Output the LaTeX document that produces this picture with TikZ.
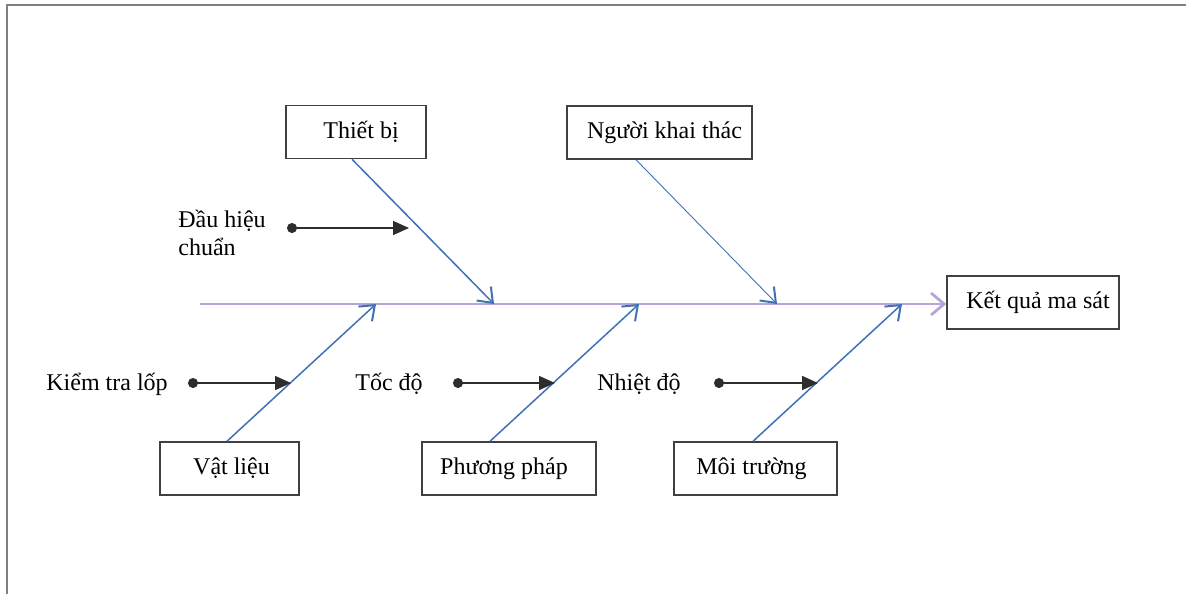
\documentclass[tikz,border=0pt]{standalone}
\usepackage{fontspec}
\setmainfont{Liberation Serif}
\usetikzlibrary{arrows.meta}
\definecolor{boneblue}{RGB}{62,114,180}
\definecolor{spinepurple}{RGB}{184,164,214}
\definecolor{framegray}{RGB}{128,128,128}
\definecolor{boxgray}{RGB}{64,64,64}
\definecolor{subblack}{RGB}{45,45,45}
\begin{document}
\begin{tikzpicture}[x=0.5pt,y=-0.5pt,
  font=\fontsize{12pt}{14pt}\selectfont,
  causebox/.style={draw=boxgray,line width=0.75pt,minimum height=26.5pt,inner sep=0pt,fill=white},
  bone/.style={draw=boneblue,line width=0.75pt,-{Straight Barb[length=6.5pt,width=10pt,line width=1pt]}},
  thinbone/.style={draw=boneblue,line width=0.45pt,-{Straight Barb[length=6.5pt,width=10pt,line width=1pt]}},
  spine/.style={draw=spinepurple,line width=1.3pt,-{Straight Barb[length=6.5pt,width=11pt,line width=1.4pt]}},
  subarrow/.style={draw=subblack,line width=0.75pt,{Circle[length=5pt]}-{Triangle[length=8pt,width=7pt]}},
  lbl/.style={inner sep=0pt,anchor=west}
]
\useasboundingbox (0,0) rectangle (1186,594);
% frame (top and left edges only)
\draw[framegray,line width=1pt] (7,594) -- (7,5) -- (1186,5);

% boxes
\node[causebox,minimum width=70pt] (thiet) at (356,132) {\hspace*{5pt}Thiết bị};
\node[causebox,minimum width=92.5pt] (nguoi) at (659.5,132.5) {\hspace*{5pt}Người khai thác};
\node[causebox,minimum width=86pt] (kq) at (1033,302.5) {\hspace*{5pt}Kết quả ma sát};
\node[causebox,minimum width=69.5pt] (vat) at (229.5,468.5) {\hspace*{2pt}Vật liệu};
\node[causebox,minimum width=87pt] (pp) at (509,468.5) {Phương pháp\hspace*{5pt}};
\node[causebox,minimum width=81.5pt] (mt) at (755.5,468.5) {Môi trường\hspace*{4pt}};

% spine
\coordinate (s0) at (200,304);
\draw[spine] (s0) -- (s0 -| kq.west);

% bone end points on spine
\coordinate (t1) at (494,304);
\coordinate (t2) at (777,304);
\coordinate (b1) at (376,304);
\coordinate (b2) at (639,304);
\coordinate (b3) at (902,304);

\draw[bone] ([xshift=-2pt]thiet.south) -- (t1);
\draw[thinbone] ([xshift=-11.75pt]nguoi.south) -- (t2);
\draw[bone] ([xshift=-1.25pt]vat.north) -- (b1);
\draw[bone] ([xshift=-9.5pt]pp.north) -- (b2);
\draw[bone] ([xshift=-1.25pt]mt.north) -- (b3);

% sub-cause labels
\node[lbl,align=left] (dau) at (178,233) {Đầu hiệu\\chuẩn};
\node[lbl] (kiem) at (46,384) {Kiểm tra lốp};
\node[lbl] (toc) at (355,384) {Tốc độ};
\node[lbl] (nhiet) at (597,384) {Nhiệt độ};

% sub-cause arrows
\coordinate (d1) at (287,228); \coordinate (e1) at (409,228);
\coordinate (d2) at (188,383); \coordinate (e2) at (291,383);
\coordinate (d3) at (453,383); \coordinate (e3) at (555,383);
\coordinate (d4) at (714,383); \coordinate (e4) at (818,383);
\draw[subarrow] (d1) -- (e1);
\draw[subarrow] (d2) -- (e2);
\draw[subarrow] (d3) -- (e3);
\draw[subarrow] (d4) -- (e4);
\end{tikzpicture}
\end{document}
